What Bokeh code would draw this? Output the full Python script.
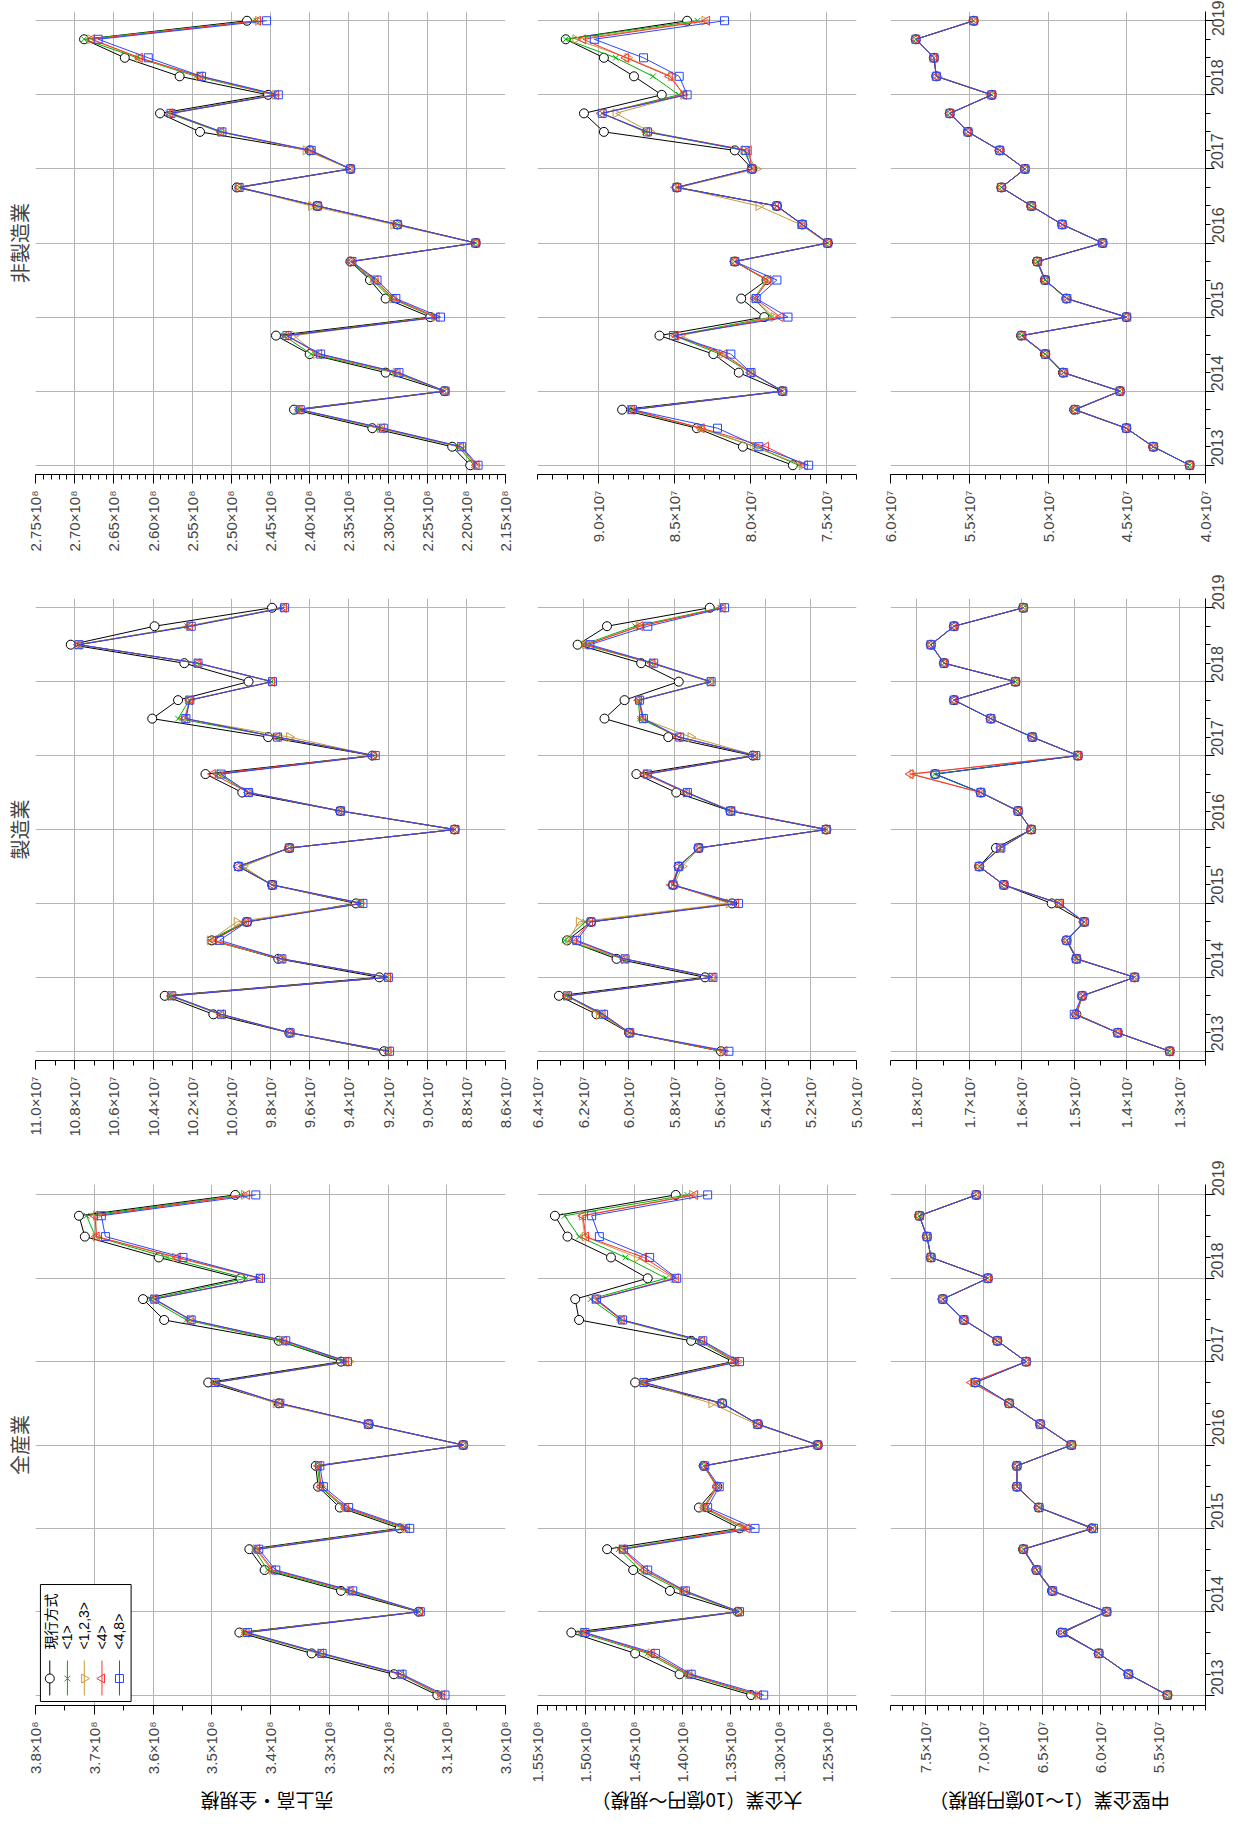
import math
import numpy as np
from bokeh.plotting import figure
from bokeh.models import (Range1d, LinearAxis, FixedTicker, CustomJSTickFormatter,
                          Grid, BoxAnnotation, Label)
from bokeh.layouts import column, row
from bokeh.embed import file_html
from bokeh.resources import INLINE

# ---------------- categories ----------------
quarters = [2013.0, 2013.25, 2013.5, 2013.75, 2014.0, 2014.25, 2014.5, 2014.75,
            2015.0, 2015.25, 2015.5, 2015.75, 2016.0, 2016.25, 2016.5, 2016.75,
            2017.0, 2017.25, 2017.5, 2017.75, 2018.0, 2018.25, 2018.5, 2018.75, 2019.0]
years = [2013, 2014, 2015, 2016, 2017, 2018, 2019]
series_names = ["現行方式", "<1>", "<1,2,3>", "<4>", "<4,8>"]
industry_titles = ["非製造業", "製造業", "全産業"]          # picture rows, top to bottom
scale_labels = ["売上高・全規模", "大企業（10億円～規模）", "中堅企業（1～10億円規模）"]

# ---------------- 全産業 ----------------
# 売上高・全規模 (x10^8)
zen_uri_gen = [3.116, 3.190, 3.330, 3.453, 3.148, 3.280, 3.410, 3.436, 3.180, 3.282, 3.319, 3.323, 3.072,
               3.233, 3.386, 3.506, 3.280, 3.386, 3.581, 3.617, 3.451, 3.590, 3.716, 3.726, 3.460]
zen_uri_1 = [3.112, 3.180, 3.318, 3.446, 3.147, 3.270, 3.405, 3.428, 3.173, 3.276, 3.316, 3.320, 3.072,
             3.234, 3.385, 3.497, 3.275, 3.386, 3.543, 3.604, 3.442, 3.576, 3.698, 3.713, 3.450]
zen_uri_123 = [3.110, 3.179, 3.315, 3.443, 3.146, 3.265, 3.398, 3.425, 3.170, 3.273, 3.315, 3.318, 3.072,
               3.236, 3.391, 3.495, 3.266, 3.380, 3.537, 3.599, 3.420, 3.562, 3.697, 3.697, 3.445]
zen_uri_4 = [3.108, 3.178, 3.314, 3.441, 3.146, 3.264, 3.396, 3.423, 3.168, 3.272, 3.314, 3.318, 3.072,
             3.233, 3.385, 3.494, 3.272, 3.377, 3.536, 3.598, 3.418, 3.558, 3.696, 3.699, 3.440]
zen_uri_48 = [3.103, 3.176, 3.312, 3.439, 3.145, 3.260, 3.391, 3.420, 3.163, 3.267, 3.310, 3.316, 3.072,
              3.233, 3.384, 3.494, 3.269, 3.374, 3.535, 3.597, 3.417, 3.549, 3.681, 3.688, 3.425]
# 大企業 (x10^8)
zen_dai_gen = [1.329, 1.403, 1.449, 1.515, 1.343, 1.413, 1.451, 1.478, 1.341, 1.383, 1.364, 1.378, 1.260,
               1.322, 1.359, 1.449, 1.348, 1.391, 1.507, 1.511, 1.436, 1.474, 1.519, 1.532, 1.407]
zen_dai_1 = [1.324, 1.396, 1.436, 1.506, 1.343, 1.401, 1.444, 1.466, 1.337, 1.379, 1.364, 1.378, 1.260,
             1.322, 1.359, 1.442, 1.346, 1.383, 1.465, 1.495, 1.417, 1.459, 1.507, 1.522, 1.395]
zen_dai_123 = [1.322, 1.394, 1.433, 1.503, 1.342, 1.399, 1.440, 1.463, 1.336, 1.378, 1.365, 1.378, 1.260,
               1.324, 1.370, 1.441, 1.343, 1.380, 1.463, 1.491, 1.409, 1.447, 1.501, 1.504, 1.390]
zen_dai_4 = [1.321, 1.393, 1.432, 1.502, 1.342, 1.398, 1.439, 1.462, 1.333, 1.377, 1.364, 1.378, 1.260,
             1.322, 1.360, 1.440, 1.345, 1.380, 1.463, 1.490, 1.407, 1.440, 1.500, 1.503, 1.387]
zen_dai_48 = [1.316, 1.391, 1.428, 1.501, 1.341, 1.397, 1.436, 1.461, 1.325, 1.374, 1.362, 1.377, 1.260,
              1.322, 1.359, 1.440, 1.341, 1.379, 1.462, 1.489, 1.406, 1.434, 1.486, 1.494, 1.374]
# 中堅企業 (x10^7)
zen_chu_gen = [5.426, 5.761, 6.015, 6.339, 5.948, 6.416, 6.550, 6.664, 6.075, 6.530, 6.717, 6.717, 6.249,
               6.517, 6.784, 7.072, 6.637, 6.885, 7.172, 7.353, 6.965, 7.453, 7.487, 7.554, 7.065]
zen_chu_1 = [5.426, 5.761, 6.015, 6.326, 5.948, 6.412, 6.545, 6.660, 6.069, 6.528, 6.716, 6.717, 6.249,
             6.517, 6.784, 7.075, 6.637, 6.885, 7.172, 7.353, 6.965, 7.453, 7.487, 7.553, 7.065]
zen_chu_123 = [5.426, 5.760, 6.015, 6.325, 5.948, 6.412, 6.546, 6.660, 6.066, 6.528, 6.716, 6.717, 6.249,
               6.517, 6.782, 7.090, 6.637, 6.883, 7.170, 7.353, 6.965, 7.453, 7.487, 7.553, 7.065]
zen_chu_4 = [5.426, 5.760, 6.015, 6.324, 5.948, 6.412, 6.546, 6.660, 6.066, 6.528, 6.716, 6.717, 6.249,
             6.517, 6.782, 7.105, 6.637, 6.883, 7.170, 7.353, 6.965, 7.453, 7.487, 7.553, 7.065]
zen_chu_48 = [5.426, 5.760, 6.014, 6.324, 5.946, 6.410, 6.545, 6.659, 6.060, 6.527, 6.715, 6.716, 6.249,
              6.517, 6.782, 7.070, 6.637, 6.883, 7.170, 7.352, 6.965, 7.453, 7.487, 7.552, 7.065]

# ---------------- 製造業 ----------------
# 売上高・全規模 (x10^7)
sei_uri_gen = [9.220, 9.704, 10.092, 10.340, 9.244, 9.760, 10.100, 9.920, 9.364, 9.792, 9.964, 9.704, 8.860,
               9.444, 9.944, 10.132, 9.280, 9.812, 10.404, 10.272, 9.912, 10.240, 10.820, 10.392, 9.792]
sei_uri_1 = [9.205, 9.704, 10.060, 10.315, 9.205, 9.748, 10.112, 9.930, 9.345, 9.792, 9.945, 9.704, 8.860,
             9.444, 9.915, 10.068, 9.278, 9.764, 10.272, 10.215, 9.795, 10.175, 10.785, 10.225, 9.738]
sei_uri_123 = [9.200, 9.700, 10.055, 10.310, 9.202, 9.745, 10.108, 9.972, 9.340, 9.795, 9.940, 9.706, 8.856,
               9.440, 9.910, 10.060, 9.270, 9.704, 10.240, 10.214, 9.794, 10.172, 10.780, 10.215, 9.732]
sei_uri_4 = [9.198, 9.702, 10.052, 10.306, 9.200, 9.744, 10.090, 9.925, 9.338, 9.790, 9.962, 9.704, 8.855,
             9.438, 9.912, 10.095, 9.275, 9.766, 10.236, 10.212, 9.792, 10.172, 10.780, 10.212, 9.732]
sei_uri_48 = [9.192, 9.700, 10.050, 10.304, 9.198, 9.742, 10.060, 9.920, 9.328, 9.790, 9.964, 9.704, 8.858,
              9.442, 9.912, 10.052, 9.265, 9.764, 10.232, 10.212, 9.790, 10.170, 10.778, 10.205, 9.728]
# 大企業 (x10^7)
sei_dai_gen = [5.595, 5.998, 6.141, 6.306, 5.665, 6.053, 6.270, 6.165, 5.546, 5.805, 5.780, 5.693, 5.133,
               5.553, 5.791, 5.966, 5.455, 5.826, 6.106, 6.018, 5.780, 5.945, 6.224, 6.095, 5.644]
sei_dai_1 = [5.590, 5.998, 6.120, 6.275, 5.640, 6.025, 6.280, 6.190, 5.535, 5.805, 5.776, 5.693, 5.133,
             5.553, 5.750, 5.925, 5.448, 5.780, 5.950, 5.958, 5.645, 5.900, 6.200, 5.971, 5.598]
sei_dai_123 = [5.585, 5.995, 6.130, 6.272, 5.635, 6.020, 6.265, 6.218, 5.560, 5.800, 5.765, 5.690, 5.128,
               5.546, 5.748, 5.920, 5.440, 5.728, 5.940, 5.955, 5.642, 5.896, 6.190, 5.955, 5.590]
sei_dai_4 = [5.580, 5.995, 6.115, 6.270, 5.632, 6.018, 6.240, 6.170, 5.530, 5.812, 5.780, 5.693, 5.128,
             5.545, 5.745, 5.930, 5.446, 5.782, 5.938, 5.955, 5.640, 5.896, 6.185, 5.949, 5.588]
sei_dai_48 = [5.560, 5.995, 6.110, 6.268, 5.630, 6.016, 6.228, 6.165, 5.518, 5.805, 5.780, 5.693, 5.133,
              5.553, 5.742, 5.918, 5.442, 5.776, 5.935, 5.952, 5.638, 5.890, 6.170, 5.916, 5.579]
# 中堅企業 (x10^7)
sei_chu_gen = [1.318, 1.417, 1.496, 1.485, 1.385, 1.496, 1.515, 1.481, 1.543, 1.634, 1.681, 1.649, 1.582,
               1.607, 1.678, 1.765, 1.493, 1.580, 1.659, 1.729, 1.612, 1.748, 1.773, 1.729, 1.597]
sei_chu_1 = [1.318, 1.417, 1.496, 1.484, 1.385, 1.496, 1.514, 1.481, 1.530, 1.634, 1.681, 1.641, 1.582,
             1.607, 1.678, 1.766, 1.493, 1.580, 1.659, 1.729, 1.612, 1.748, 1.773, 1.729, 1.597]
sei_chu_123 = [1.318, 1.417, 1.497, 1.484, 1.385, 1.495, 1.514, 1.482, 1.529, 1.634, 1.681, 1.641, 1.582,
               1.607, 1.678, 1.808, 1.493, 1.579, 1.659, 1.729, 1.612, 1.748, 1.773, 1.729, 1.597]
sei_chu_4 = [1.318, 1.417, 1.497, 1.485, 1.385, 1.494, 1.514, 1.482, 1.528, 1.634, 1.681, 1.640, 1.582,
             1.607, 1.678, 1.812, 1.493, 1.579, 1.659, 1.729, 1.612, 1.748, 1.773, 1.729, 1.597]
sei_chu_48 = [1.318, 1.417, 1.500, 1.485, 1.385, 1.496, 1.514, 1.481, 1.528, 1.634, 1.681, 1.640, 1.582,
              1.607, 1.678, 1.765, 1.493, 1.580, 1.659, 1.729, 1.612, 1.748, 1.773, 1.729, 1.597]

# ---------------- 非製造業 ----------------
# 売上高・全規模 (x10^8)
hi_uri_gen = [2.195, 2.218, 2.320, 2.420, 2.228, 2.303, 2.400, 2.443, 2.246, 2.303, 2.323, 2.348, 2.188,
              2.288, 2.390, 2.493, 2.348, 2.400, 2.540, 2.591, 2.453, 2.566, 2.636, 2.688, 2.480]
hi_uri_1 = [2.190, 2.210, 2.312, 2.416, 2.228, 2.292, 2.398, 2.433, 2.241, 2.296, 2.320, 2.348, 2.188,
            2.289, 2.391, 2.490, 2.348, 2.402, 2.515, 2.580, 2.446, 2.545, 2.620, 2.688, 2.468]
hi_uri_123 = [2.188, 2.208, 2.310, 2.414, 2.228, 2.290, 2.392, 2.420, 2.240, 2.294, 2.318, 2.347, 2.188,
              2.293, 2.398, 2.490, 2.348, 2.405, 2.513, 2.575, 2.444, 2.541, 2.618, 2.680, 2.466]
hi_uri_4 = [2.187, 2.207, 2.308, 2.413, 2.227, 2.288, 2.388, 2.430, 2.238, 2.293, 2.316, 2.347, 2.188,
            2.288, 2.390, 2.490, 2.348, 2.400, 2.513, 2.578, 2.443, 2.540, 2.617, 2.678, 2.466]
hi_uri_48 = [2.185, 2.206, 2.306, 2.412, 2.227, 2.286, 2.386, 2.429, 2.233, 2.290, 2.314, 2.346, 2.188,
             2.288, 2.390, 2.490, 2.348, 2.398, 2.512, 2.577, 2.440, 2.538, 2.606, 2.670, 2.455]
# 大企業 (x10^7)
hi_dai_gen = [7.719, 8.048, 8.351, 8.843, 7.790, 8.075, 8.242, 8.597, 7.907, 8.059, 7.892, 8.101, 7.489,
              7.657, 7.824, 8.482, 7.986, 8.101, 8.963, 9.094, 8.582, 8.765, 8.963, 9.214, 8.415]
hi_dai_1 = [7.680, 7.967, 8.329, 8.800, 7.787, 8.000, 8.200, 8.500, 7.860, 7.975, 7.890, 8.101, 7.489,
            7.660, 7.824, 8.482, 7.986, 8.040, 8.690, 8.974, 8.470, 8.640, 8.885, 9.214, 8.347]
hi_dai_123 = [7.660, 7.965, 8.325, 8.790, 7.785, 7.998, 8.185, 8.460, 7.845, 7.970, 7.892, 8.101, 7.495,
              7.670, 7.944, 8.470, 7.960, 8.033, 8.660, 8.885, 8.440, 8.519, 8.807, 9.150, 8.300]
hi_dai_4 = [7.640, 7.897, 8.320, 8.780, 7.785, 7.996, 8.170, 8.490, 7.800, 7.968, 7.880, 8.105, 7.489,
            7.657, 7.830, 8.490, 7.986, 8.010, 8.680, 8.980, 8.435, 8.530, 8.817, 9.100, 8.284]
hi_dai_48 = [7.615, 7.943, 8.215, 8.775, 7.785, 7.994, 8.127, 8.505, 7.751, 7.960, 7.824, 8.101, 7.489,
             7.657, 7.824, 8.482, 7.990, 8.033, 8.676, 8.974, 8.415, 8.467, 8.702, 9.026, 8.169]
# 中堅企業 (x10^7)
hi_chu_gen = [4.100, 4.332, 4.503, 4.834, 4.543, 4.905, 5.020, 5.171, 4.503, 4.884, 5.020, 5.070, 4.653,
              4.910, 5.106, 5.296, 5.146, 5.307, 5.508, 5.623, 5.357, 5.709, 5.724, 5.839, 5.472]
hi_chu_1 = [4.100, 4.332, 4.503, 4.830, 4.543, 4.902, 5.018, 5.168, 4.503, 4.882, 5.019, 5.068, 4.653,
            4.910, 5.106, 5.296, 5.146, 5.307, 5.508, 5.623, 5.357, 5.709, 5.724, 5.839, 5.472]
hi_chu_123 = [4.100, 4.331, 4.503, 4.828, 4.543, 4.901, 5.017, 5.167, 4.503, 4.881, 5.018, 5.067, 4.653,
              4.910, 5.105, 5.296, 5.146, 5.306, 5.508, 5.623, 5.357, 5.709, 5.724, 5.839, 5.472]
hi_chu_4 = [4.100, 4.331, 4.503, 4.828, 4.543, 4.901, 5.017, 5.167, 4.503, 4.881, 5.018, 5.067, 4.653,
            4.910, 5.105, 5.296, 5.146, 5.306, 5.508, 5.623, 5.357, 5.709, 5.724, 5.839, 5.472]
hi_chu_48 = [4.100, 4.331, 4.502, 4.827, 4.543, 4.900, 5.016, 5.166, 4.500, 4.880, 5.017, 5.066, 4.653,
             4.910, 5.105, 5.296, 5.146, 5.306, 5.508, 5.623, 5.357, 5.709, 5.724, 5.839, 5.472]

# ---------------- value-axis ticks (in units of 10^n) ----------------
ticks_zen_uri = [3.8, 3.7, 3.6, 3.5, 3.4, 3.3, 3.2, 3.1, 3.0]
ticks_zen_dai = [1.55, 1.50, 1.45, 1.40, 1.35, 1.30, 1.25]
ticks_zen_chu = [7.5, 7.0, 6.5, 6.0, 5.5]
ticks_sei_uri = [11.0, 10.8, 10.6, 10.4, 10.2, 10.0, 9.8, 9.6, 9.4, 9.2, 9.0, 8.8, 8.6]
ticks_sei_dai = [6.4, 6.2, 6.0, 5.8, 5.6, 5.4, 5.2, 5.0]
ticks_sei_chu = [1.8, 1.7, 1.6, 1.5, 1.4, 1.3]
ticks_hi_uri = [2.75, 2.70, 2.65, 2.60, 2.55, 2.50, 2.45, 2.40, 2.35, 2.30, 2.25, 2.20, 2.15]
ticks_hi_dai = [9.0, 8.5, 8.0, 7.5]
ticks_hi_chu = [6.0, 5.5, 5.0, 4.5, 4.0]

# ---------------- styling ----------------
COLORS = ["#000000", "#00b000", "#c89a3c", "#ff3030", "#2848ff"]
MARKERS = [("circle", 0.0, 9), ("x", 0.0, 8), ("triangle", -math.pi / 2, 9),
           ("triangle", math.pi / 2, 9), ("square", 0.0, 8)]
GRID = "#b4b4b4"
NUM_FONT = "Liberation Sans"
JP_FONT = "Noto Sans CJK JP"

# picture rows (top->bottom): 非製造業, 製造業, 全産業 ; picture cols: 売上高, 大企業, 中堅
panels = [
    [dict(data=[hi_uri_gen, hi_uri_1, hi_uri_123, hi_uri_4, hi_uri_48], ticks=ticks_hi_uri,
          rng=(2.75, 2.15), minor=0.01, dec=2, exp="⁸"),
     dict(data=[hi_dai_gen, hi_dai_1, hi_dai_123, hi_dai_4, hi_dai_48], ticks=ticks_hi_dai,
          rng=(9.4, 7.3), minor=0.1, dec=1, exp="⁷"),
     dict(data=[hi_chu_gen, hi_chu_1, hi_chu_123, hi_chu_4, hi_chu_48], ticks=ticks_hi_chu,
          rng=(6.0, 4.0), minor=0.1, dec=1, exp="⁷")],
    [dict(data=[sei_uri_gen, sei_uri_1, sei_uri_123, sei_uri_4, sei_uri_48], ticks=ticks_sei_uri,
          rng=(11.0, 8.6), minor=0.1, dec=1, exp="⁷"),
     dict(data=[sei_dai_gen, sei_dai_1, sei_dai_123, sei_dai_4, sei_dai_48], ticks=ticks_sei_dai,
          rng=(6.4, 5.0), minor=0.1, dec=1, exp="⁷"),
     dict(data=[sei_chu_gen, sei_chu_1, sei_chu_123, sei_chu_4, sei_chu_48], ticks=ticks_sei_chu,
          rng=(1.85, 1.25), minor=0.05, dec=1, exp="⁷")],
    [dict(data=[zen_uri_gen, zen_uri_1, zen_uri_123, zen_uri_4, zen_uri_48], ticks=ticks_zen_uri,
          rng=(3.8, 3.0), minor=0.05, dec=1, exp="⁸"),
     dict(data=[zen_dai_gen, zen_dai_1, zen_dai_123, zen_dai_4, zen_dai_48], ticks=ticks_zen_dai,
          rng=(1.55, 1.22), minor=0.01, dec=2, exp="⁸"),
     dict(data=[zen_chu_gen, zen_chu_1, zen_chu_123, zen_chu_4, zen_chu_48], ticks=ticks_zen_chu,
          rng=(7.8, 5.1), minor=0.1, dec=1, exp="⁷")],
]

COL_BORDERS = [(28, 477, 16), (16, 319, 17), (17, 318, 24)]   # left, frame, right
ROW_BORDERS = [(11, 463, 100), (24, 462, 100), (24, 521, 82)]   # top, frame, bottom
LABEL_STRIP_H = 28
TITLE_OFFSETS = [0, 0, -20]
Y0, Y1 = 2012.875, 2019.125


def make_panel(r, c, spec):
    lb, fw, rb = COL_BORDERS[c]
    tb, fh, bb = ROW_BORDERS[r]
    kw = {}
    if c == 0:
        kw = dict(title=industry_titles[r], title_location="left")
    xs, xe = spec["rng"]
    p = figure(width=lb + fw + rb, height=tb + fh + bb,
               x_range=Range1d(xs, xe), y_range=Range1d(Y0, Y1),
               x_axis_type=None, y_axis_type=None,
               output_backend="svg", toolbar_location=None, **kw)
    p.min_border_left, p.min_border_right = lb, rb
    p.min_border_top, p.min_border_bottom = tb, bb
    p.outline_line_color = None
    p.background_fill_color = "white"
    p.border_fill_color = "white"
    if c == 0:
        p.title.text_font = JP_FONT
        p.title.text_font_size = "20px"
        p.title.text_font_style = "normal"
        p.title.align = "center"
        p.title.standoff = 4
        p.title.offset = TITLE_OFFSETS[r]

    lo, hi = min(xs, xe), max(xs, xe)
    minors = [float(v) for v in np.round(np.arange(lo, hi + spec["minor"] / 2, spec["minor"]), 4)]

    p.add_layout(Grid(dimension=0, ticker=FixedTicker(ticks=spec["ticks"]),
                      grid_line_color=GRID, grid_line_width=1))
    p.add_layout(Grid(dimension=1, ticker=FixedTicker(ticks=years),
                      grid_line_color=GRID, grid_line_width=1))

    fmt = CustomJSTickFormatter(code="return tick.toFixed(%d) + '×10%s';" % (spec["dec"], spec["exp"]))
    xaxis = LinearAxis(ticker=FixedTicker(ticks=spec["ticks"], minor_ticks=minors), formatter=fmt,
                       major_label_orientation=math.pi / 2,
                       major_label_text_font=NUM_FONT, major_label_text_font_size="15px",
                       major_label_standoff=7,
                       axis_line_color="black", major_tick_line_color="black",
                       minor_tick_line_color="black",
                       major_tick_in=0, major_tick_out=9, minor_tick_in=0, minor_tick_out=5)
    p.add_layout(xaxis, "below")

    if c == 2:
        yaxis = LinearAxis(ticker=FixedTicker(ticks=years, minor_ticks=quarters),
                           formatter=CustomJSTickFormatter(code="return tick.toFixed(0);"),
                           major_label_orientation=math.pi / 2,
                           major_label_text_font=NUM_FONT, major_label_text_font_size="16px",
                           major_label_standoff=3,
                           axis_line_color="black", major_tick_in=0, major_tick_out=9,
                           minor_tick_in=0, minor_tick_out=5)
        p.add_layout(yaxis, "right")

    # legend (only in 全産業 / 売上高 panel), placed by fractions of the frame
    if r == 2 and c == 0:
        fx = lambda f: xs + f * (xe - xs)
        fy = lambda f: Y0 + f * (Y1 - Y0)
        p.add_layout(BoxAnnotation(left=fx(0.0105), right=fx(0.2034), bottom=fy(0.0077), top=fy(0.2322),
                                   fill_color="white", fill_alpha=1.0, line_color="black",
                                   line_width=1, line_alpha=1.0, level="underlay"))
        cols = [0.0304, 0.0679, 0.1038, 0.1414, 0.1787]
        for k, name in enumerate(series_names):
            m, ang, sz = MARKERS[k]
            p.segment(x0=[fx(cols[k])], y0=[fy(0.0192)], x1=[fx(cols[k])], y1=[fy(0.0864)],
                      line_color=COLORS[k], line_width=1)
            p.scatter(x=[fx(cols[k])], y=[fy(0.0518)], marker=m, angle=ang, size=sz,
                      line_color=COLORS[k], fill_color="white" if k == 0 else None, line_width=1)
            p.add_layout(Label(x=fx(cols[k]), y=fy(0.1075), text=name, angle=math.pi / 2,
                               text_align="left", text_baseline="middle",
                               text_font=JP_FONT if k == 0 else NUM_FONT,
                               text_font_size="14px", text_color="black"))

    for k, vals in enumerate(spec["data"]):
        m, ang, sz = MARKERS[k]
        p.line(x=vals, y=quarters, line_color=COLORS[k], line_width=1)
        p.scatter(x=vals, y=quarters, marker=m, angle=ang, size=sz, line_color=COLORS[k],
                  fill_color="white" if k == 0 else None, line_width=1)
    return p


rows_ = []
for r in range(3):
    rows_.append(row(*[make_panel(r, c, panels[r][c]) for c in range(3)]))

# strip with the (upside-down) size-class labels, each centred under its column's frame
total_w = sum(lb + fw + rb for lb, fw, rb in COL_BORDERS)
strip = figure(width=total_w, height=LABEL_STRIP_H, x_range=Range1d(0, total_w),
               y_range=Range1d(0, LABEL_STRIP_H), x_axis_type=None, y_axis_type=None,
               output_backend="svg", toolbar_location=None, min_border=0)
strip.outline_line_color = None
acc = 0
for c, (lb, fw, rb) in enumerate(COL_BORDERS):
    strip.add_layout(Label(x=acc + lb + fw / 2, y=LABEL_STRIP_H / 2, text=scale_labels[c],
                           angle=math.pi, text_align="center", text_baseline="middle",
                           text_font=JP_FONT, text_font_size="19px", text_color="black"))
    acc += lb + fw + rb
rows_.append(strip)

layout = column(*rows_)
open("out.html", "w").write(file_html(layout, INLINE))
